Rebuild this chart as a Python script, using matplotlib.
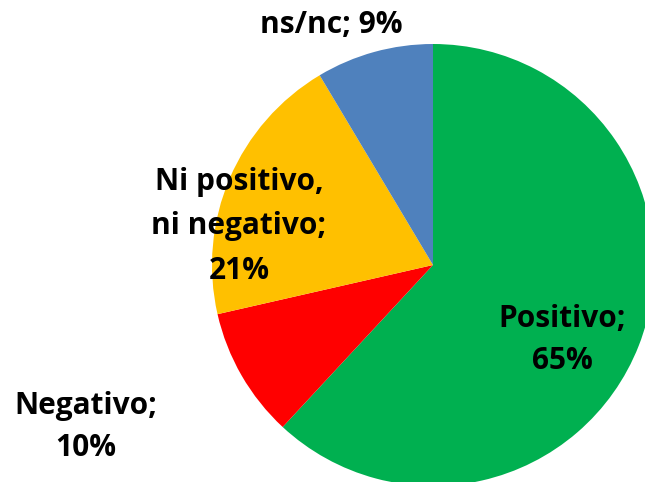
import matplotlib
matplotlib.use("Agg")
import matplotlib.pyplot as plt

categories = ["Positivo", "Negativo", "Ni positivo,\nni negativo", "ns/nc"]
values = [65, 10, 21, 9]
colors = ["#00B050", "#FF0000", "#FFC000", "#4F81BD"]
labels = [["Positivo;", "65%"],
          ["Negativo;", "10%"],
          ["Ni positivo,", "ni negativo;", "21%"],
          ["ns/nc; 9%"]]

W, H = 645, 482
fig = plt.figure(figsize=(W / 100, H / 100), dpi=100)
ax = fig.add_axes([0, 0, 1, 1])

cx, cy, r = 433, H - 265, 221
ax.pie(values, colors=colors, startangle=90, counterclock=False,
       center=(cx, cy), radius=r, frame=True,
       wedgeprops=dict(linewidth=0))
ax.set_xlim(0, W)
ax.set_ylim(0, H)
ax.set_aspect("equal")
ax.axis("off")

# label anchor: (x center, list of baselines in pixel rows)
label_anchor = [(562, [327, 369]), (86, [414, 456]), (239, [190, 234, 279]), (331, [33])]
for lines, (px, baselines) in zip(labels, label_anchor):
    for line, by in zip(lines, baselines):
        ax.text(px, H - by, line, ha="center", va="baseline", fontsize=21.5,
                fontweight="bold", family="Open Sans", color="black")

fig.savefig("out.png", dpi=100)
